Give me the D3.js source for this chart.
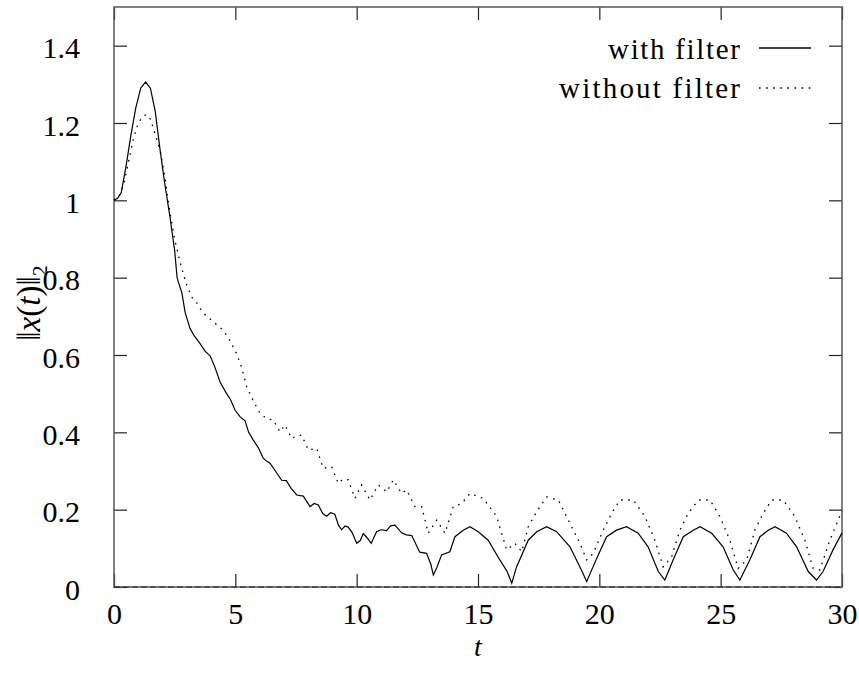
<!DOCTYPE html>
<html>
<head>
<meta charset="utf-8">
<script src="https://cdn.jsdelivr.net/npm/d3@7/dist/d3.min.js"></script>
<style>
  body { margin: 0; background: #fff; }
  text { font-family: "Liberation Serif", "DejaVu Serif", serif; fill: #000; }
</style>
</head>
<body>
<div id="chart"></div>
<script>
// [t, ||x(t)||_2]
const withFilter = [
  [0, 1.0], [0.15, 1.005], [0.3, 1.02], [0.5, 1.09], [0.7, 1.17], [0.9, 1.24], [1.1, 1.29],
  [1.3, 1.306], [1.5, 1.29], [1.7, 1.23], [1.9, 1.13], [2.1, 1.04], [2.3, 0.96], [2.5, 0.87],
  [2.6, 0.80], [2.65, 0.789], [2.8, 0.76], [2.93, 0.71], [3.13, 0.669], [3.3, 0.65], [3.54, 0.63],
  [3.75, 0.61], [3.96, 0.598], [4.15, 0.57], [4.37, 0.53], [4.64, 0.50], [4.8, 0.485], [4.99, 0.457],
  [5.2, 0.44], [5.4, 0.43], [5.55, 0.40], [5.74, 0.38], [5.95, 0.36], [6.15, 0.333], [6.3, 0.325],
  [6.43, 0.32], [6.65, 0.30], [6.91, 0.276], [7.1, 0.275], [7.3, 0.255], [7.53, 0.238], [7.8, 0.235],
  [8.08, 0.208], [8.25, 0.216], [8.42, 0.212], [8.6, 0.19], [8.76, 0.183], [8.93, 0.192], [9.1, 0.188],
  [9.25, 0.16], [9.38, 0.148], [9.52, 0.158], [9.65, 0.155], [9.82, 0.14], [10.0, 0.113], [10.15, 0.12],
  [10.27, 0.138], [10.42, 0.128], [10.6, 0.113], [10.82, 0.143], [11.0, 0.148], [11.23, 0.146],
  [11.4, 0.158], [11.58, 0.16], [11.85, 0.14], [12.05, 0.135], [12.27, 0.133], [12.6, 0.09],
  [12.88, 0.087], [13.05, 0.06], [13.16, 0.031], [13.3, 0.05], [13.5, 0.083], [13.84, 0.091],
  [14.05, 0.13], [14.39, 0.147], [14.67, 0.156], [15.01, 0.143], [15.42, 0.121], [15.9, 0.07],
  [16.2, 0.04], [16.39, 0.01], [16.59, 0.052], [17.07, 0.121], [17.42, 0.143], [17.83, 0.156],
  [18.24, 0.143], [18.79, 0.104], [19.2, 0.052], [19.48, 0.014], [19.89, 0.074], [20.3, 0.13],
  [20.71, 0.147], [21.12, 0.156], [21.6, 0.139], [22.01, 0.104], [22.43, 0.04], [22.7, 0.018],
  [23.04, 0.07], [23.46, 0.13], [23.87, 0.147], [24.15, 0.156], [24.63, 0.139], [25.1, 0.104],
  [25.52, 0.044], [25.79, 0.018], [26.2, 0.07], [26.62, 0.13], [26.96, 0.147], [27.24, 0.156],
  [27.71, 0.139], [28.13, 0.104], [28.61, 0.04], [28.95, 0.018], [29.22, 0.04], [29.63, 0.096],
  [30, 0.14]
];

const withoutFilter = [
  [0, 1.0], [0.2, 1.01], [0.4, 1.04], [0.6, 1.10], [0.8, 1.16], [1.0, 1.20], [1.2, 1.218],
  [1.35, 1.222], [1.5, 1.21], [1.7, 1.17], [1.9, 1.13], [2.1, 1.06], [2.3, 0.97], [2.5, 0.90],
  [2.72, 0.84], [3.0, 0.78], [3.2, 0.75], [3.41, 0.735], [3.6, 0.715], [3.82, 0.70], [4.02, 0.69],
  [4.5, 0.664], [4.75, 0.64], [5.05, 0.604], [5.25, 0.57], [5.47, 0.518], [5.75, 0.48], [6.02, 0.449],
  [6.3, 0.435], [6.56, 0.432], [6.84, 0.401], [7.05, 0.419], [7.32, 0.384], [7.5, 0.39], [7.73, 0.393],
  [8.01, 0.354], [8.35, 0.359], [8.62, 0.307], [8.97, 0.311], [9.24, 0.268], [9.45, 0.28], [9.65, 0.277],
  [9.93, 0.229], [10.2, 0.264], [10.55, 0.225], [10.89, 0.264], [11.24, 0.246], [11.51, 0.277],
  [11.85, 0.242], [12.06, 0.251], [12.4, 0.208], [12.68, 0.208], [12.95, 0.139], [13.3, 0.173],
  [13.64, 0.139], [13.98, 0.208], [14.33, 0.216], [14.67, 0.242], [15.22, 0.229], [15.77, 0.182],
  [16.18, 0.096], [16.52, 0.113], [16.8, 0.091], [17.07, 0.156], [17.42, 0.195], [17.83, 0.233],
  [18.31, 0.225], [18.72, 0.173], [19.2, 0.113], [19.48, 0.07], [19.75, 0.087], [20.16, 0.147],
  [20.5, 0.19], [20.85, 0.225], [21.4, 0.225], [21.88, 0.182], [22.29, 0.121], [22.63, 0.052],
  [22.98, 0.078], [23.32, 0.147], [23.66, 0.19], [24.08, 0.225], [24.56, 0.225], [24.97, 0.182],
  [25.38, 0.121], [25.72, 0.048], [26.07, 0.07], [26.41, 0.147], [26.75, 0.19], [27.1, 0.225],
  [27.58, 0.225], [28.06, 0.182], [28.47, 0.121], [28.81, 0.048], [29.09, 0.044], [29.5, 0.121],
  [30, 0.197]
];

const xTicks = [0, 5, 10, 15, 20, 25, 30];
const yTicks = [0, 0.2, 0.4, 0.6, 0.8, 1, 1.2, 1.4];
const seriesNames = ["with filter", "without filter"];

const W = 859, H = 673;
const margin = { top: 7, right: 17, bottom: 86, left: 114 };
const width = W - margin.left - margin.right,
      height = H - margin.top - margin.bottom;

const svg = d3.select("#chart").append("svg")
    .attr("width", W)
    .attr("height", H);

const g = svg.append("g")
    .attr("transform", `translate(${margin.left},${margin.top})`);

const x = d3.scaleLinear().domain([0, 30]).range([0, width]);
const y = d3.scaleLinear().domain([0, 1.5]).range([height, 0]);

const fontSize = 30;
const tickLen = 13;

// inward ticks on all four sides (gnuplot style)
const tickFmt = d => d3.format("~g")(d);
const bottomAxis = g.append("g")
    .attr("transform", `translate(0,${height})`)
    .call(d3.axisBottom(x).tickValues(xTicks).tickSize(-tickLen).tickPadding(tickLen + 3).tickFormat(tickFmt));
const topAxis = g.append("g")
    .call(d3.axisTop(x).tickValues(xTicks).tickSize(-tickLen).tickFormat(""));
const leftAxis = g.append("g")
    .call(d3.axisLeft(y).tickValues(yTicks).tickSize(-tickLen).tickPadding(tickLen + 21).tickFormat(tickFmt));
const rightAxis = g.append("g")
    .attr("transform", `translate(${width},0)`)
    .call(d3.axisRight(y).tickValues(yTicks).tickSize(-tickLen).tickFormat(""));

[bottomAxis, topAxis, leftAxis, rightAxis].forEach(a => {
    a.select(".domain").remove();
    a.selectAll(".tick line").attr("stroke", "#222").attr("stroke-width", 1.2);
    a.selectAll("text")
        .style("font-family", '"Liberation Serif", serif')
        .style("font-size", fontSize + "px")
        .attr("fill", "#000");
});
leftAxis.selectAll("text").attr("dy", "0.4em");

// frame
g.append("rect")
    .attr("width", width)
    .attr("height", height)
    .attr("fill", "none")
    .attr("stroke", "#555")
    .attr("stroke-width", 1.5);

// zero line (dashed, over the bottom border)
g.append("line")
    .attr("x1", 0).attr("x2", width)
    .attr("y1", y(0)).attr("y2", y(0))
    .attr("stroke", "#222")
    .attr("stroke-width", 1.2)
    .attr("stroke-dasharray", "6,3");

const line = d3.line()
    .x(d => x(d[0]))
    .y(d => y(d[1]));

g.append("path")
    .datum(withFilter)
    .attr("fill", "none")
    .attr("stroke", "#000")
    .attr("stroke-width", 1.2)
    .attr("d", line);

g.append("path")
    .datum(withoutFilter)
    .attr("fill", "none")
    .attr("stroke", "#000")
    .attr("stroke-width", 1.3)
    .attr("stroke-dasharray", "1.6,5.5")
    .attr("d", line);

// legend
const legend = svg.append("g");
const legendRows = [
    { name: seriesNames[0], base: 59, ly: 48, dash: null, len: 132 },
    { name: seriesNames[1], base: 98, ly: 88, dash: "1.6,5.5", len: 181 }
];
legendRows.forEach(r => {
    legend.append("text")
        .attr("x", 740)
        .attr("y", r.base)
        .attr("text-anchor", "end")
        .attr("textLength", r.len)
        .attr("lengthAdjust", "spacing")
        .style("font-size", "29px")
        .text(r.name);
    legend.append("line")
        .attr("x1", 759).attr("x2", 811)
        .attr("y1", r.ly).attr("y2", r.ly)
        .attr("stroke", "#000")
        .attr("stroke-width", 1.3)
        .attr("stroke-dasharray", r.dash);
});

// axis titles
svg.append("text")
    .attr("x", margin.left + x(15))
    .attr("y", 656)
    .attr("text-anchor", "middle")
    .style("font-size", "28px")
    .style("font-style", "italic")
    .text("t");

const yLabel = svg.append("text")
    .attr("transform", "translate(40,303) rotate(-90)")
    .attr("text-anchor", "middle")
    .style("font-size", "33px");
yLabel.append("tspan").text("‖");
yLabel.append("tspan").style("font-style", "italic").text("x");
yLabel.append("tspan").text("(");
yLabel.append("tspan").style("font-style", "italic").text("t");
yLabel.append("tspan").text(")‖");
yLabel.append("tspan").attr("dy", 7).style("font-size", "22px").text("2");
</script>
</body>
</html>
